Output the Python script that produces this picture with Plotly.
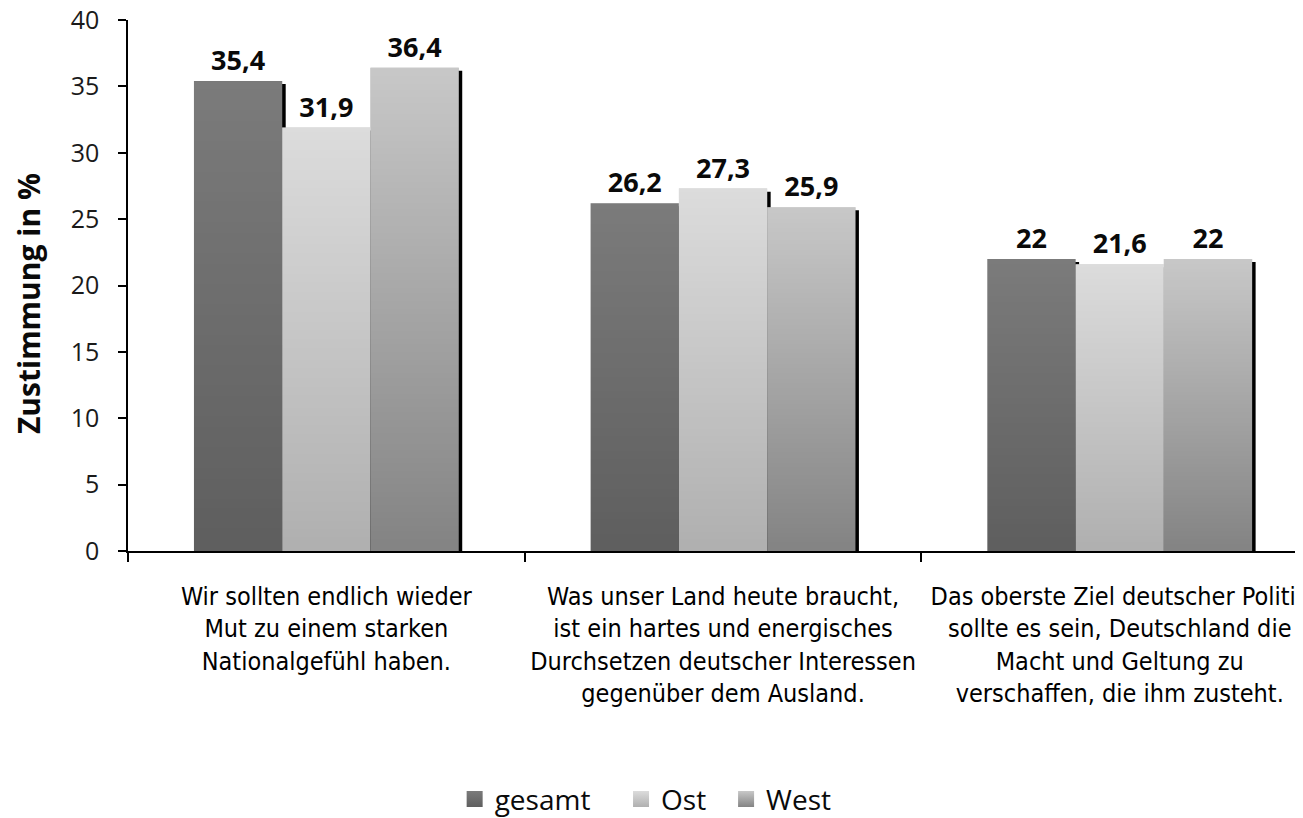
import base64
import struct
import zlib

import plotly.graph_objects as go

# ---------------- data ----------------
categories = [
    "Wir sollten endlich wieder<br>Mut zu einem starken<br>Nationalgefühl haben.",
    "Was unser Land heute braucht,<br>ist ein hartes und energisches<br>Durchsetzen deutscher Interessen<br>gegenüber dem Ausland.",
    "Das oberste Ziel deutscher Politik<br>sollte es sein, Deutschland die<br>Macht und Geltung zu<br>verschaffen, die ihm zusteht.",
]
series_names = ["gesamt", "Ost", "West"]
gesamt = [35.4, 26.2, 22.0]
ost = [31.9, 27.3, 21.6]
west = [36.4, 25.9, 22.0]
y_ticks = [0, 5, 10, 15, 20, 25, 30, 35, 40]

# ---------------- style ----------------
bottom_colors = ["#5f5f5f", "#b0b0b0", "#848484"]   # colour at bar foot
top_colors = ["#7b7b7b", "#dcdcdc", "#c8c8c8"]      # colour at bar top
overlay_opacity = [0.175, 0.557, 0.553]             # white gradient strength
bar_width = 0.2225
offsets = [-1.5 * bar_width, -0.5 * bar_width, 0.5 * bar_width]
shadow_dx = 0.0088
shadow_drop = 0.23
legend_x = [0.278, 0.4196, 0.509]

TICK_FONT = "Open Sans, Noto Sans, sans-serif"
CAT_FONT = "DejaVu Sans Condensed, Liberation Sans Narrow, sans-serif"


def gradient_png():
    """1 x 256 white PNG whose alpha fades from 255 (top) to 0 (bottom)."""
    h = 256
    raw = b""
    for r in range(h):
        a = int(round(255 * (1 - r / (h - 1))))
        raw += b"\x00" + bytes([255, 255, 255, a])

    def chunk(tag, data):
        c = struct.pack(">I", len(data)) + tag + data
        return c + struct.pack(">I", zlib.crc32(tag + data) & 0xFFFFFFFF)

    png = b"\x89PNG\r\n\x1a\n"
    png += chunk(b"IHDR", struct.pack(">IIBBBBB", 1, h, 8, 6, 0, 0, 0))
    png += chunk(b"IDAT", zlib.compress(raw))
    png += chunk(b"IEND", b"")
    return "data:image/png;base64," + base64.b64encode(png).decode()


GRAD = gradient_png()

all_series = [gesamt, ost, west]


def fmt(v):
    return f"{v:g}".replace(".", ",")


fig = go.Figure()

# shadows first (drawn behind)
for i, vals in enumerate(all_series):
    fig.add_trace(go.Bar(
        x=categories, y=[v - shadow_drop for v in vals],
        width=bar_width, offset=offsets[i] + shadow_dx,
        marker=dict(color="#000000", line=dict(width=0)),
        showlegend=False, hoverinfo="skip",
    ))

# real bars
for i, vals in enumerate(all_series):
    fig.add_trace(go.Bar(
        x=categories, y=vals, name=series_names[i],
        width=bar_width, offset=offsets[i],
        marker=dict(color=bottom_colors[i], line=dict(width=0)),
        text=[fmt(v) for v in vals], textposition="outside",
        textfont=dict(family=TICK_FONT, size=27, color="#0a0a0a", weight="bold"),
        cliponaxis=False, showlegend=False,
    ))

# legend entries (one legend each, so spacing can follow the original)
legend_ids = ["legend", "legend2", "legend3"]
for i, name in enumerate(series_names):
    fig.add_trace(go.Scatter(
        x=[None], y=[None], mode="markers", name=name, legend=legend_ids[i],
        marker=dict(symbol="square", size=20, color=top_colors[i],
                    gradient=dict(type="vertical", color=bottom_colors[i]),
                    line=dict(width=0)),
    ))

# gradient overlays on each bar
images = []
for i, vals in enumerate(all_series):
    for j, v in enumerate(vals):
        images.append(dict(
            source=GRAD, xref="x", yref="y",
            x=j + offsets[i], y=v, sizex=bar_width, sizey=v,
            xanchor="left", yanchor="top", sizing="stretch",
            opacity=overlay_opacity[i], layer="above",
        ))

legend_style = dict(
    orientation="h", xanchor="left", y=-0.4675, yanchor="middle",
    font=dict(family=TICK_FONT, size=28, color="#0a0a0a"),
    itemsizing="trace", itemwidth=30, bgcolor="rgba(0,0,0,0)",
)

fig.update_layout(
    template="none",
    width=1295, height=810,
    margin=dict(l=120, r=0, t=12, b=267, autoexpand=False),
    paper_bgcolor="white", plot_bgcolor="white",
    barmode="overlay",
    images=images,
    showlegend=True,
    legend=dict(x=legend_x[0], **legend_style),
    legend2=dict(x=legend_x[1], **legend_style),
    legend3=dict(x=legend_x[2], **legend_style),
    xaxis=dict(
        type="category", range=[-0.5, 2.462], automargin=False,
        tickson="boundaries", ticks="outside", ticklen=9, tickwidth=1.5,
        tickcolor="black", showline=True, linecolor="black", linewidth=1.5,
        showgrid=False, zeroline=False, ticklabelstandoff=22,
        tickfont=dict(family=CAT_FONT, size=25, color="#000000"),
    ),
    yaxis=dict(
        range=[0, 40], tickvals=y_ticks, automargin=False,
        ticks="outside", ticklen=8, tickwidth=1.5, tickcolor="black",
        showline=True, linecolor="black", linewidth=1.5,
        showgrid=False, zeroline=False, ticklabelstandoff=14,
        ticklabeloverflow="allow",
        tickfont=dict(family=TICK_FONT, size=25, color="#1a1a1a"),
    ),
    annotations=[dict(
        text="Zustimmung in %", textangle=-90,
        xref="paper", yref="paper", x=-0.0847, y=0.466,
        xanchor="center", yanchor="middle", showarrow=False,
        font=dict(family=TICK_FONT, size=30, color="#0a0a0a", weight="bold"),
    )],
)

fig.write_html("out.html")
